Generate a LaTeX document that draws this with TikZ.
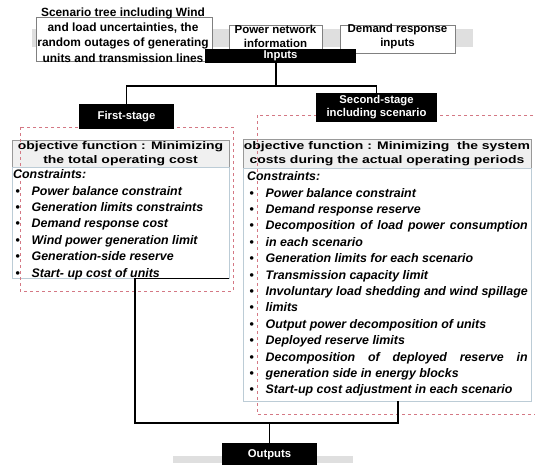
\documentclass[tikz,border=0pt]{standalone}
\usepackage{fontspec}
\setmainfont{Liberation Sans}
\newfontfamily\headfont{Liberation Sans}[FakeStretch=1.27]
\newcommand{\itm}{\makebox[18.5pt][l]{\hspace{2.5pt}\upshape\textbullet}}
\newcommand{\fullline}[1]{\makebox[262pt][s]{#1}}
\definecolor{stagered}{RGB}{212,120,132}
\definecolor{listedge}{RGB}{188,204,214}
\begin{document}
\begin{tikzpicture}
    [
    x=1pt,y=-1pt,
    blackbox/.style={fill=black,text=white,inner sep=0pt,align=center,font=\bfseries\fontsize{11.3}{13}\selectfont},
    inbox/.style={draw=gray,fill=white,inner sep=0pt,align=center,font=\bfseries\fontsize{11.5}{14}\selectfont},
    headbox/.style={draw=gray!80,fill=gray!12,inner sep=0pt,align=center,font=\headfont\bfseries\fontsize{11}{14.5}\selectfont},
    listbox/.style={draw=listedge,fill=white,inner sep=0pt},
    listtext/.style={anchor=north west,inner sep=0pt,align=left,font=\bfseries\itshape\fontsize{12.4}{16.4}\selectfont},
    stagebound/.style={draw=stagered,dashed},
    band/.style={fill=gray!25,draw=none},
    link/.style={line width=1.1pt}
    ]
    \useasboundingbox (0,0) rectangle (535,464);
    \fill [band] (32,29) rectangle (473,47);
    \fill [band] (173,456) rectangle (353,463);
    \node (scenbox) at (124,39) [inbox,minimum width=176pt,minimum height=44pt] {};
    \node (scen) at (123,35) [inbox,draw=none,fill=none,font=\bfseries\fontsize{11.9}{15.3}\selectfont] {Scenario tree including Wind\\and load uncertainties, the\\random outages of generating\\units and transmission lines};
    \node (network) at (275.5,39) [inbox,minimum width=93pt,minimum height=28pt] {};
    \node (networktext) at (275.5,36.5) [inbox,draw=none,fill=none] {Power network\\information};
    \node (demand) at (397.5,39) [inbox,minimum width=115pt,minimum height=28pt] {};
    \node (demandtext) at (397.5,36.5) [inbox,draw=none,fill=none] {Demand response\\inputs};
    \node (inputs) at (280.5,56) [blackbox,minimum width=151pt,minimum height=14pt] {Inputs};
    \node (obj1) at (120.5,153.5) [headbox,minimum width=217pt,minimum height=27pt] {objective function : Minimizing\\the total operating cost};
    \node (con1) at (120.5,222.5) [listbox,minimum width=217pt,minimum height=111pt] {};
    \node (obj2) at (387,153.5) [headbox,minimum width=288pt,minimum height=29pt] {objective function : Minimizing\ \ the system\\costs during the actual operating periods};
    \node (con2) at (387,284.5) [listbox,minimum width=288pt,minimum height=233pt] {};
    \draw [stagebound] (20,127) rectangle (233,291);
    \draw [stagebound] (257,115) rectangle (540,414);
    \node (list1) at (13,169.5) [listtext] {Constraints:\\
      \itm Power balance constraint\\
      \itm Generation limits constraints\\
      \itm Demand response cost\\
      \itm Wind power generation limit\\
      \itm Generation-side reserve\\
      \itm Start- up cost of units};
    \node (list2) at (247,171.5) [listtext] {Constraints:\\
      \itm Power balance constraint\\
      \itm Demand response reserve\\
      \itm \fullline{Decomposition of load power consumption}\\
      \itm in each scenario\\
      \itm Generation limits for each scenario\\
      \itm Transmission capacity limit\\
      \itm \fullline{Involuntary load shedding and wind spillage}\\
      \itm limits\\
      \itm Output power decomposition of units\\
      \itm Deployed reserve limits\\
      \itm \fullline{Decomposition of deployed reserve in}\\
      \itm generation side in energy blocks\\
      \itm Start-up cost adjustment in each scenario};
    \node (first) at (126.5,116.5) [blackbox,minimum width=95pt,minimum height=25pt] {First-stage};
    \node (second) at (376.5,107.5) [blackbox,minimum width=121pt,minimum height=29pt] {Second-stage\\including scenario};
    \node (outputs) at (269.5,455) [blackbox,minimum width=95pt,minimum height=24pt] {Outputs};
    \coordinate (split) at (276,86);
    \coordinate (leftdrop) at (135,423);
    \coordinate (rightdrop) at (398,423);
    \draw [link] (split |- inputs.south) -- (split);
    \draw [link] (split) -| (first.north);
    \draw [link] (split) -| (second.north);
    \draw [link] (con1.south east) -- (con1.south -| leftdrop) -- (leftdrop) -- (rightdrop) -- (rightdrop |- con2.south);
    \draw [link] (outputs.north |- leftdrop) -- (outputs.north);
\end{tikzpicture}
\end{document}
